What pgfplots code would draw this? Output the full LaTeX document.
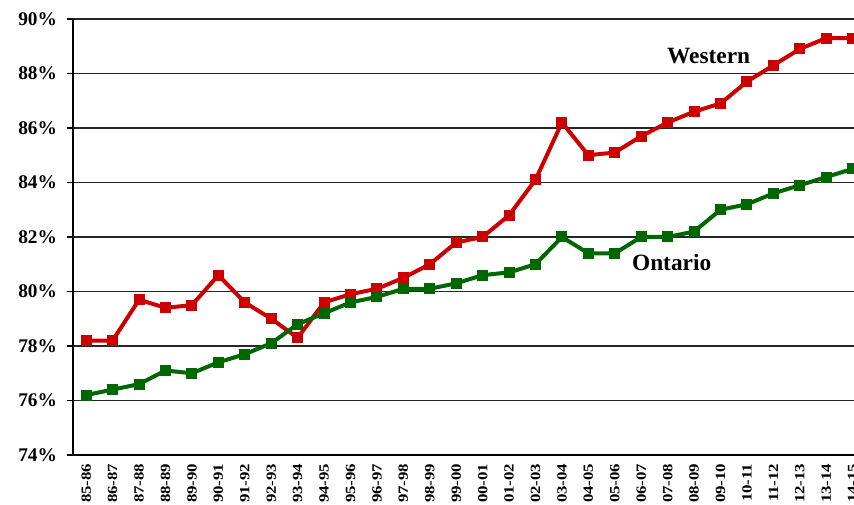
\documentclass[border=0pt]{standalone}
\usepackage{fontspec}
\setmainfont{Liberation Serif}
\usepackage{pgfplots}
\pgfplotsset{compat=1.18}
\definecolor{uwoRed}{RGB}{204,0,0}
\definecolor{ontGreen}{RGB}{0,102,0}

\begin{document}
\begin{tikzpicture}
\begin{axis}[
  name=ax,
  scale only axis,
  width=585.75pt, height=327pt,
  xmin=-0.5, xmax=29.05,
  ymin=74, ymax=90,
  axis x line*=bottom, axis y line*=left,
  axis line style={line width=1.6pt, draw=black, -},
  clip=false,
  ytick={74,76,...,90},
  yticklabels={74\%,76\%,78\%,80\%,82\%,84\%,86\%,88\%,90\%},
  ytick align=outside,
  major tick length=4.5pt,
  ytick style={line width=0.9pt, black},
  ymajorgrids=true,
  grid style={line width=0.9pt, draw=black!85},
  yticklabel style={font=\fontsize{14.5}{17}\selectfont\bfseries, xshift=-4pt},
  xtick={0,...,29},
  xticklabels={85-86,86-87,87-88,88-89,89-90,90-91,91-92,92-93,93-94,94-95,
    95-96,96-97,97-98,98-99,99-00,00-01,01-02,02-03,03-04,04-05,05-06,06-07,
    07-08,08-09,09-10,10-11,11-12,12-13,13-14,14-15},
  xtick style={draw=none},
  xticklabel style={font=\fontsize{10.5}{12}\selectfont\bfseries,
    rotate=90, xscale=1.2, anchor=east, yshift=0pt},
  minor xtick={-0.5,0.5,...,29.5},
  minor x tick style={line width=0.6pt, black!70},
  minor tick length=6pt,
  xtick align=center,
]
\addplot[uwoRed, line width=3pt, mark=square*, mark size=3.75pt,
  mark options={solid, fill=uwoRed, draw=uwoRed, line width=0pt}]
  coordinates {
    (0,78.2) (1,78.2) (2,79.7) (3,79.4) (4,79.5) (5,80.6) (6,79.6) (7,79.0)
    (8,78.3) (9,79.6) (10,79.9) (11,80.1) (12,80.5) (13,81.0) (14,81.8)
    (15,82.0) (16,82.8) (17,84.1) (18,86.2) (19,85.0) (20,85.1) (21,85.7)
    (22,86.2) (23,86.6) (24,86.9) (25,87.7) (26,88.3) (27,88.9) (28,89.3)
    (29,89.3)
  };
\addplot[ontGreen, line width=3pt, mark=square*, mark size=3.75pt,
  mark options={solid, fill=ontGreen, draw=ontGreen, line width=0pt}]
  coordinates {
    (0,76.2) (1,76.4) (2,76.6) (3,77.1) (4,77.0) (5,77.4) (6,77.7) (7,78.1)
    (8,78.8) (9,79.2) (10,79.6) (11,79.8) (12,80.1) (13,80.1) (14,80.3)
    (15,80.6) (16,80.7) (17,81.0) (18,82.0) (19,81.4) (20,81.4) (21,82.0)
    (22,82.0) (23,82.2) (24,83.0) (25,83.2) (26,83.6) (27,83.9) (28,84.2)
    (29,84.5)
  };
\node[font=\fontsize{17.5}{20}\selectfont\bfseries] at (axis cs:23.55,88.64) {Western};
\node[font=\fontsize{17.5}{20}\selectfont\bfseries] at (axis cs:22.15,81.08) {Ontario};
\end{axis}
\pgfresetboundingbox
\useasboundingbox ([xshift=-54.75pt,yshift=-37.5pt]ax.south west)
  rectangle ([yshift=14.25pt]ax.north east);
\end{tikzpicture}
\end{document}
